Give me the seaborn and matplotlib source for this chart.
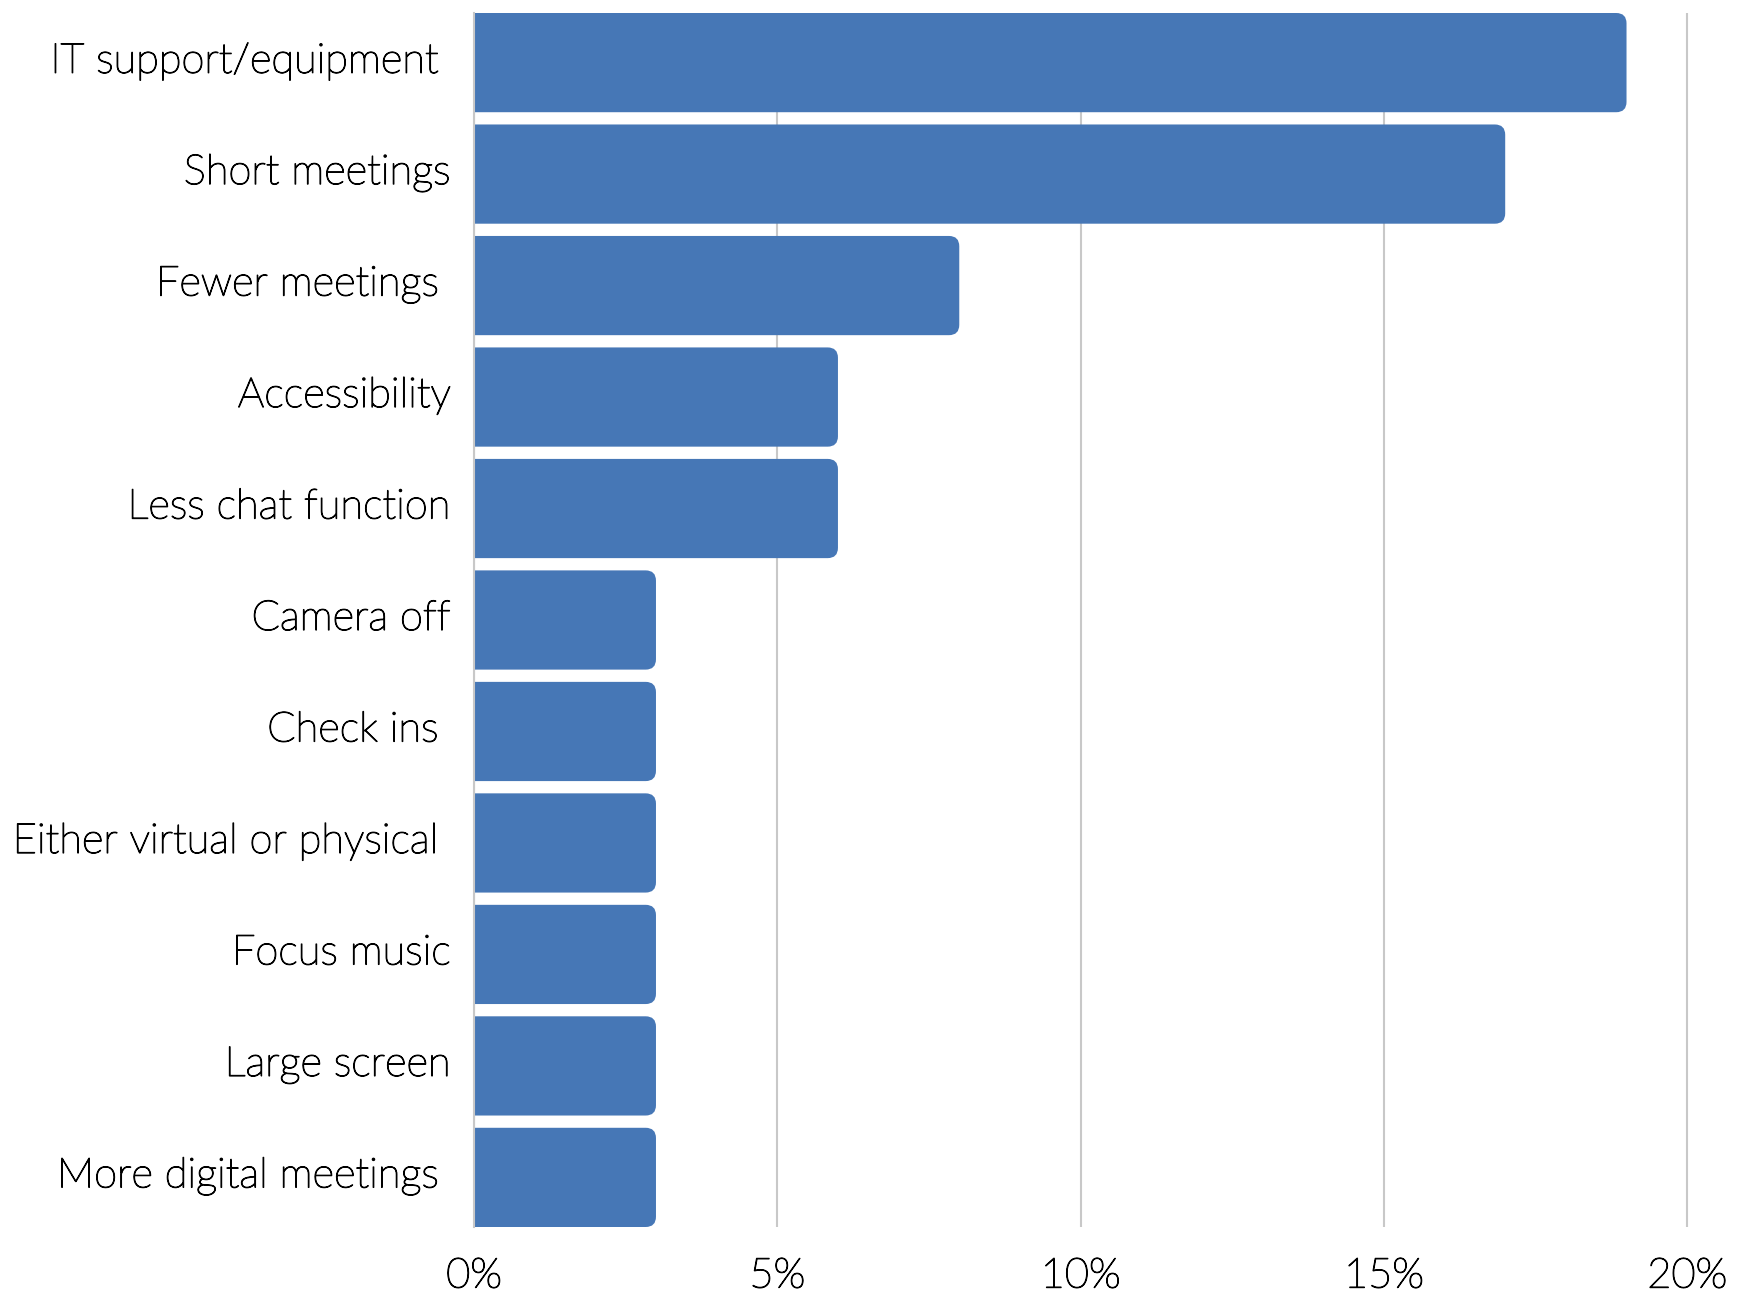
import matplotlib
matplotlib.use("Agg")
import matplotlib.pyplot as plt
import matplotlib.patheffects as pe
import matplotlib.transforms as mtransforms
from matplotlib.patches import FancyBboxPatch
from matplotlib.ticker import FuncFormatter
import seaborn as sns
import pandas as pd

categories = [
    "IT support/equipment ",
    "Short meetings",
    "Fewer meetings ",
    "Accessibility",
    "Less chat function",
    "Camera off",
    "Check ins ",
    "Either virtual or physical ",
    "Focus music",
    "Large screen",
    "More digital meetings ",
]
shares = [19, 17, 8, 6, 6, 3, 3, 3, 3, 3, 3]
ticks = [0, 5, 10, 15, 20]

df = pd.DataFrame({"category": categories, "share": shares})

sns.set_theme(style="white")
plt.rcParams["font.family"] = ["Lato", "DejaVu Sans"]

W, H, DPI = 17.48, 12.98, 100
fig = plt.figure(figsize=(W, H), dpi=DPI)
ax_left, ax_bottom = 474 / 1748, 1 - 1227 / 1298
ax_w, ax_h = (1689 - 474) / 1748, (1227 - 13) / 1298
ax = fig.add_axes([ax_left, ax_bottom, ax_w, ax_h])

bar_color = "#4677B6"
bar_w = 0.89
sns.barplot(data=df, x="share", y="category", orient="h", color=bar_color,
            saturation=1, width=bar_w, ax=ax)

xmax = 20.03
ax.set_xlim(0, xmax)
ax.set_ylim(len(categories) - 1 + bar_w / 2, -bar_w / 2)

# round the right-hand corners of each bar
radius = 0.17
px_per_x = W * DPI * ax_w / xmax
px_per_y = H * DPI * ax_h / (len(categories) - 1 + bar_w)
mut_aspect = px_per_x / px_per_y
for p in list(ax.patches):
    x0, y0 = p.get_x(), p.get_y()
    w, h = p.get_width(), p.get_height()
    p.remove()
    fb = FancyBboxPatch((x0 - 1.0, y0), w + 1.0, h,
                        boxstyle=f"round,pad=0,rounding_size={radius}",
                        mutation_aspect=mut_aspect,
                        facecolor=bar_color, edgecolor="none", zorder=2)
    ax.add_patch(fb)

ax.set_xticks(ticks)
ax.xaxis.set_major_formatter(FuncFormatter(lambda v, _: f"{v:.0f}%"))
ax.grid(axis="x", color="#C8C8C8", linewidth=1.5, zorder=0)
ax.set_axisbelow(True)
ax.set_xlabel("")
ax.set_ylabel("")

for s in ["top", "right", "bottom"]:
    ax.spines[s].set_visible(False)
ax.spines["left"].set_color("#C8C8C8")
ax.spines["left"].set_linewidth(1.5)
ax.spines["left"].set_zorder(3)

ax.tick_params(axis="both", length=0, labelsize=30, labelcolor="#000000")
ax.tick_params(axis="y", pad=17)
ax.tick_params(axis="x", pad=22)
thicken = [pe.withStroke(linewidth=0.9, foreground="#000000")]
for lbl in ax.get_xticklabels() + ax.get_yticklabels():
    lbl.set_fontweight("light")
    lbl.set_path_effects(thicken)

# nudge category labels slightly upward
lift = mtransforms.ScaledTranslation(0, 5 / 100, fig.dpi_scale_trans)
for lbl in ax.get_yticklabels():
    lbl.set_transform(lbl.get_transform() + lift)

fig.savefig("out.png", dpi=DPI, facecolor="white")
